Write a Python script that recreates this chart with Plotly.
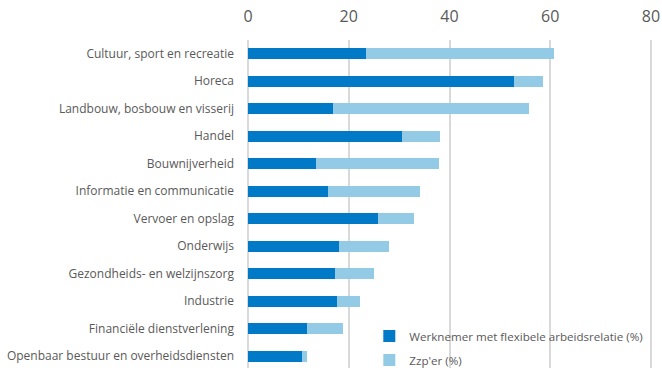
import plotly.graph_objects as go

# Sectors, top to bottom
sectoren = [
    "Cultuur, sport en recreatie",
    "Horeca",
    "Landbouw, bosbouw en visserij",
    "Handel",
    "Bouwnijverheid",
    "Informatie en communicatie",
    "Vervoer en opslag",
    "Onderwijs",
    "Gezondheids- en welzijnszorg",
    "Industrie",
    "Financiële dienstverlening",
    "Openbaar bestuur en overheidsdiensten",
]

# Share of employees with a flexible contract (%)
flex = [23.5, 52.9, 16.8, 30.6, 13.5, 15.9, 25.8, 18.0, 17.3, 17.6, 11.8, 10.7]
# Share of self-employed without staff (%)
zzp = [37.3, 5.7, 38.9, 7.6, 24.5, 18.3, 7.1, 10.0, 7.8, 4.7, 7.1, 1.1]

x_ticks = [0, 20, 40, 60, 80]

donker = "#0079C6"
licht = "#93CBE7"
grijs = "#595959"

fig = go.Figure()
fig.add_trace(go.Bar(
    y=sectoren, x=flex, orientation="h", name="Werknemer met flexibele arbeidsrelatie (%)",
    marker=dict(color=donker, line=dict(width=0)), width=0.4, legendgroup="a",
))
fig.add_trace(go.Bar(
    y=sectoren, x=zzp, orientation="h", name="Zzp'er (%)",
    marker=dict(color=licht, line=dict(width=0)), width=0.4, legendgroup="b",
))

fig.update_layout(
    barmode="stack",
    width=662, height=368,
    margin=dict(l=247, r=10, t=40, b=0, autoexpand=False),
    paper_bgcolor="white", plot_bgcolor="white",
    font=dict(family="Open Sans, sans-serif", color=grijs, size=12),
    showlegend=True,
    legend=dict(
        x=0.302, y=-0.02, xanchor="left", yanchor="bottom",
        bgcolor="rgba(0,0,0,0)", font=dict(size=11.6, color=grijs),
        traceorder="grouped", tracegroupgap=5,
    ),
    xaxis=dict(
        side="top", range=[-0.2, 80.2], tickvals=x_ticks,
        showgrid=True, gridcolor="#d9d9d9", gridwidth=2,
        zeroline=True, zerolinecolor="#d9d9d9", zerolinewidth=2,
        showline=False, ticks="", ticklabelstandoff=14,
        tickfont=dict(size=16, color=grijs),
    ),
    yaxis=dict(
        type="category", categoryorder="array", categoryarray=sectoren,
        range=[11.43, -0.5], showgrid=False, zeroline=False, showline=False,
        ticks="", ticklabelstandoff=12, tickfont=dict(size=12, color=grijs),
    ),
)

fig.write_html("out.html")
